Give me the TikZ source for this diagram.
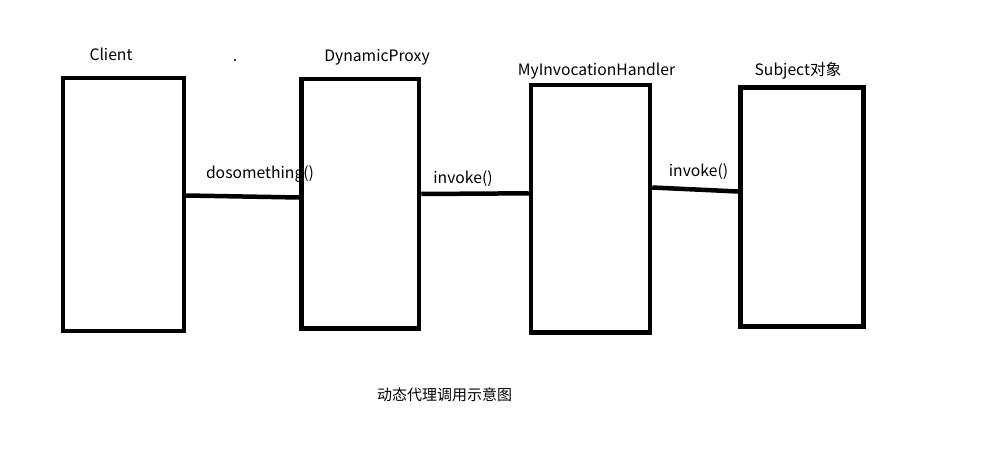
\documentclass[tikz,border=0pt]{standalone}
\usepackage{fontspec}
\setmainfont{Noto Sans CJK SC}
\begin{document}
\begin{tikzpicture}[x=1pt,y=-1pt,
  box/.style={draw=black,line width=4.5pt,minimum width=#1,inner sep=0pt},
  conn/.style={draw=black,line width=4.5pt},
  lbl/.style={inner sep=0pt,font=\fontsize{15.7}{17}\selectfont,text=black},
  captionlbl/.style={inner sep=0pt,font=\fontsize{15}{17}\selectfont,text=black}]
\useasboundingbox[fill=white] (0,0) rectangle (995,465);
\node[box=120.7pt,minimum height=253pt] (client) at (123.4,204.5) {};
\node[box=117.3pt,minimum height=249.3pt] (proxy) at (360.35,203.65) {};
\node[box=119pt,minimum height=247.3pt] (handler) at (590.5,208.65) {};
\node[box=123pt,minimum height=238.8pt] (subject) at (802,206.9) {};
\draw[conn] ([yshift=9pt]client.east) -- ([yshift=6.15pt]proxy.west);
\draw[conn] ([yshift=9.65pt]proxy.east) -- ([yshift=15.35pt]handler.west);
\draw[conn] ([yshift=21.15pt]handler.east) -- ([yshift=15.4pt]subject.west);
\node[lbl] (lclient) at (111,54) {Client};
\node[lbl] (ldot) at (235,61) {.};
\node[lbl] (lproxy) at (377,57) {DynamicProxy};
\node[lbl] (lhandler) at (596.5,71) {MyInvocationHandler};
\node[lbl] (lsubject) at (798,71) {Subject对象};
\node[lbl] (ldo) at (260,174) {dosomething()};
\node[lbl] (linv1) at (463,179) {invoke()};
\node[lbl] (linv2) at (698.5,172) {invoke()};
\node[captionlbl] (lcaption) at (444.5,395) {动态代理调用示意图};
\end{tikzpicture}
\end{document}
